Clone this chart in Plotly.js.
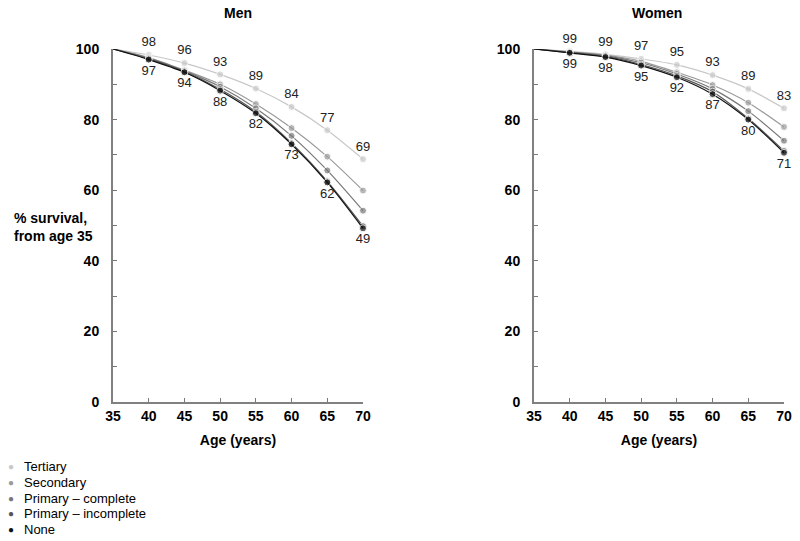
<!DOCTYPE html>
<html>
<head>
<meta charset="utf-8">
<script src="https://cdn.plot.ly/plotly-3.0.1.min.js"></script>
<style>html,body{margin:0;padding:0;background:#fff}#chart{width:800px;height:541px}</style>
</head>
<body>
<div id="chart"></div>
<script>
const ages = [35, 40, 45, 50, 55, 60, 65, 70];
const groups = ["Tertiary", "Secondary", "Primary \u2013 complete", "Primary \u2013 incomplete", "None"];
const colors = ["#c8c8c8", "#9a9a9a", "#777777", "#555555", "#111111"];

const men = [
  [100, 98.3, 96.0, 92.8, 88.8, 83.6, 77.0, 68.8],
  [100, 97.6, 94.0, 90.0, 84.4, 77.6, 69.5, 59.9],
  [100, 97.4, 93.8, 89.3, 83.2, 75.4, 65.6, 54.2],
  [100, 97.2, 93.6, 88.6, 82.2, 73.3, 62.5, 49.8],
  [100, 97.0, 93.4, 88.2, 81.8, 73.0, 62.2, 49.2]
];
const women = [
  [100, 99.3, 98.5, 97.2, 95.5, 92.6, 88.7, 83.2],
  [100, 99.2, 98.3, 96.5, 93.4, 89.8, 84.8, 77.9],
  [100, 99.1, 98.1, 96.1, 92.9, 88.7, 82.4, 74.0],
  [100, 99.0, 97.9, 95.6, 92.4, 87.9, 80.3, 71.1],
  [100, 98.9, 97.7, 95.3, 92.0, 87.2, 80.0, 70.6]
];
const menTopLabels = ["", "98", "96", "93", "89", "84", "77", "69"];
const menBottomLabels = ["", "97", "94", "88", "82", "73", "62", "49"];
const womenTopLabels = ["", "99", "99", "97", "95", "93", "89", "83"];
const womenBottomLabels = ["", "99", "98", "95", "92", "87", "80", "71"];

const FONT = "Liberation Sans, Arial, sans-serif";
const markerSizes = ages.map((a, i) => i === 0 ? 0 : 7);
const traces = [];
function addPanel(data, topLabels, bottomLabels, xa, ya) {
  data.forEach((vals, g) => {
    const t = {
      x: ages, y: vals, xaxis: xa, yaxis: ya,
      type: "scatter", mode: "lines+markers",
      line: {color: colors[g], width: 1.2, shape: "spline", smoothing: 0.8},
      marker: {color: colors[g], size: markerSizes},
      showlegend: false, cliponaxis: false, hoverinfo: "skip"
    };
    if (g === 0) { t.mode = "lines+markers+text"; t.text = topLabels; t.textposition = "top center"; }
    if (g === data.length - 1) { t.mode = "lines+markers+text"; t.text = bottomLabels; t.textposition = "bottom center"; }
    t.textfont = {family: FONT, size: 13, color: "#222"};
    traces.push(t);
  });
}
addPanel(men, menTopLabels, menBottomLabels, "x", "y");
addPanel(women, womenTopLabels, womenBottomLabels, "x2", "y2");

const bold = {family: FONT, size: 14, color: "#000", weight: "bold"};
const tickFont = {family: FONT, size: 14, color: "#000", weight: "bold"};
function xax(dom) {
  return {domain: dom, range: [35, 70], tickvals: ages, ticks: "inside", ticklen: 4, tickwidth: 1,
    tickcolor: "#777", showline: true, linecolor: "#808080", linewidth: 2, showgrid: false, zeroline: false,
    tickfont: tickFont, title: {text: "Age (years)", font: bold, standoff: 12}, fixedrange: true, automargin: false};
}
function yax(anchor) {
  return {domain: [1 - 402/541, 1 - 49/541], range: [0, 100], tickvals: [0,10,20,30,40,50,60,70,80,90,100],
    ticktext: ["0","","20","","40","","60","","80","","100"], ticks: "inside", ticklen: 4, tickwidth: 1,
    tickcolor: "#777", showline: true, linecolor: "#808080", linewidth: 2, showgrid: false, zeroline: false,
    tickfont: tickFont, ticklabelstandoff: 9, anchor: anchor, fixedrange: true, automargin: false};
}
const annotations = [
  {text: "<b>Men</b>", xref: "paper", yref: "paper", x: 0.2975, y: 1 - 13/541, xanchor: "center", yanchor: "middle", showarrow: false, font: bold},
  {text: "<b>Women</b>", xref: "paper", yref: "paper", x: 0.8213, y: 1 - 13/541, xanchor: "center", yanchor: "middle", showarrow: false, font: bold},
  {text: "<b>% survival,<br>from age 35</b>", xref: "paper", yref: "paper", x: 12/800, y: 1 - 227/541, xanchor: "left", yanchor: "middle", align: "left", showarrow: false, font: bold}
];
const legendY = [466, 482, 498, 513, 529];
groups.forEach((name, g) => {
  annotations.push({text: "\u25CF", xref: "paper", yref: "paper", x: 11/800, y: 1 - legendY[g]/541,
    xanchor: "center", yanchor: "middle", showarrow: false, font: {family: FONT, size: 10, color: colors[g]}});
  annotations.push({text: name, xref: "paper", yref: "paper", x: 22/800, y: 1 - legendY[g]/541,
    xanchor: "left", yanchor: "middle", showarrow: false, font: {family: FONT, size: 13, color: "#000"}});
});
const layout = {
  width: 800, height: 541, margin: {l: 0, r: 0, t: 0, b: 0, autoexpand: false},
  paper_bgcolor: "#fff", plot_bgcolor: "#fff",
  xaxis: xax([0.14125, 0.45375]), yaxis: yax("x"),
  xaxis2: Object.assign(xax([0.6675, 0.98]), {anchor: "y2"}), yaxis2: yax("x2"),
  showlegend: false,
  annotations: annotations
};
Plotly.newPlot("chart", traces, layout, {displayModeBar: false, staticPlot: true});
</script>
</body>
</html>
